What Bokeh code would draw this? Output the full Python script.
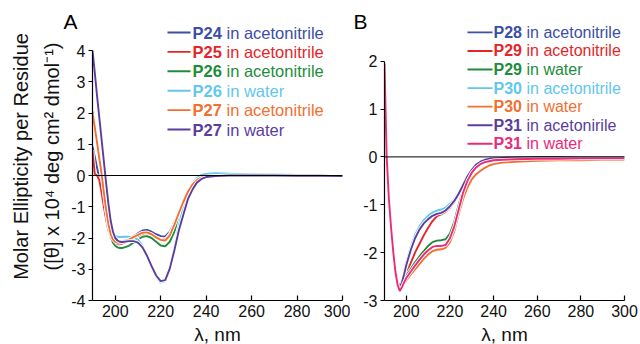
from bokeh.plotting import figure
from bokeh.models import Range1d, FixedTicker, Span, Label, Title
from bokeh.layouts import row
from bokeh.embed import file_html
from bokeh.resources import INLINE

FONT = "Liberation Sans"

# ---------------- data: panel A ----------------
wl_a = [190, 191, 192, 193, 194, 195, 196, 197, 198, 199, 200, 201, 202, 203, 204,
        206, 208, 210, 212, 214, 216, 218, 220, 222, 224, 226, 228, 230, 232, 234,
        236, 238, 240, 244, 250, 260, 270, 280, 290, 300]
p24_acn = [0.93, 0.6, 0.25, -0.1, -0.5, -0.95, -1.35, -1.7, -1.95, -2.05, -2.1, -2.12, -2.12, -2.1, -2.08,
           -2.03, -1.95, -1.85, -1.76, -1.74, -1.8, -1.88, -1.94, -1.95, -1.8, -1.5, -1.15, -0.8, -0.5, -0.28,
           -0.13, -0.06, -0.03, -0.01, 0.0, 0.0, 0.0, 0.0, -0.01, -0.02]
p25_acn = [0.8, 0.05, 0.0, -0.15, -0.55, -1.0, -1.4, -1.75, -2.0, -2.12, -2.18, -2.2, -2.2, -2.18, -2.15,
           -2.1, -2.03, -1.95, -1.87, -1.85, -1.9, -1.98, -2.04, -2.05, -1.88, -1.56, -1.2, -0.83, -0.52, -0.3,
           -0.15, -0.07, -0.03, -0.01, 0.0, 0.0, 0.0, -0.01, -0.01, -0.02]
p26_acn = [2.05, 1.6, 1.1, 0.6, 0.1, -0.5, -1.1, -1.6, -1.95, -2.15, -2.25, -2.3, -2.32, -2.32, -2.3,
           -2.25, -2.15, -2.05, -1.96, -1.94, -2.0, -2.12, -2.24, -2.27, -2.12, -1.8, -1.4, -0.98, -0.62, -0.36,
           -0.18, -0.08, -0.04, -0.01, 0.0, 0.0, 0.0, -0.01, -0.01, -0.02]
p26_water = [4.0, 3.3, 2.6, 1.9, 1.2, 0.5, -0.15, -0.95, -1.5, -1.8, -1.92, -1.96, -1.97, -1.97, -1.96,
             -1.96, -1.98, -2.05, -2.25, -2.55, -2.9, -3.25, -3.43, -3.38, -2.95, -2.3, -1.6, -1.0, -0.55, -0.25,
             -0.07, 0.02, 0.05, 0.07, 0.06, 0.04, 0.03, 0.02, 0.02, 0.01]
p27_acn = [2.0, 1.55, 1.05, 0.55, 0.05, -0.55, -1.1, -1.55, -1.88, -2.05, -2.12, -2.15, -2.15, -2.13, -2.1,
           -2.05, -1.97, -1.9, -1.83, -1.82, -1.88, -1.98, -2.06, -2.08, -1.92, -1.58, -1.2, -0.84, -0.52, -0.29,
           -0.14, -0.06, -0.03, -0.01, 0.0, 0.0, 0.0, -0.01, -0.01, -0.02]
p27_water = [4.0, 3.3, 2.55, 1.85, 1.15, 0.45, -0.25, -0.9, -1.45, -1.8, -2.0, -2.08, -2.12, -2.13, -2.12,
             -2.1, -2.1, -2.15, -2.3, -2.57, -2.9, -3.2, -3.38, -3.35, -2.98, -2.4, -1.75, -1.25, -0.75, -0.45,
             -0.22, -0.11, -0.05, -0.02, 0.0, 0.0, 0.0, -0.01, -0.01, -0.02]

# ---------------- data: panel B ----------------
wl_b = [190, 191, 192, 193, 194, 195, 196, 197, 198, 199, 200, 202, 204, 206, 208,
        210, 212, 214, 216, 218, 220, 222, 224, 226, 228, 230, 232, 234, 236, 238,
        240, 244, 250, 260, 270, 280, 290, 300]
p28_acn = [1.8, 0.0, -0.85, -1.45, -1.95, -2.35, -2.6, -2.7, -2.6, -2.43, -2.24, -1.93, -1.68, -1.5, -1.37,
           -1.28, -1.21, -1.17, -1.15, -1.1, -1.02, -0.91, -0.76, -0.58, -0.4, -0.26, -0.16, -0.1, -0.06, -0.04,
           -0.03, -0.02, -0.01, 0.0, 0.0, 0.0, 0.0, 0.0]
p29_acn = [1.85, 0.0, -0.85, -1.45, -1.97, -2.38, -2.65, -2.78, -2.7, -2.58, -2.45, -2.22, -2.0, -1.82, -1.64,
           -1.48, -1.34, -1.24, -1.2, -1.15, -1.06, -0.94, -0.78, -0.6, -0.43, -0.29, -0.19, -0.12, -0.08, -0.06,
           -0.05, -0.04, -0.03, -0.03, -0.02, -0.02, -0.02, -0.02]
p29_water = [1.75, 0.0, -0.85, -1.45, -1.95, -2.36, -2.63, -2.76, -2.7, -2.58, -2.48, -2.34, -2.2, -2.08, -1.97,
             -1.86, -1.78, -1.75, -1.74, -1.72, -1.6, -1.35, -1.0, -0.68, -0.45, -0.3, -0.2, -0.14, -0.1, -0.08,
             -0.06, -0.05, -0.04, -0.03, -0.03, -0.03, -0.03, -0.03]
p30_acn = [1.7, 0.0, -0.85, -1.45, -1.95, -2.33, -2.58, -2.68, -2.58, -2.4, -2.2, -1.88, -1.63, -1.45, -1.32,
           -1.23, -1.16, -1.12, -1.1, -1.06, -0.98, -0.88, -0.74, -0.56, -0.39, -0.25, -0.15, -0.09, -0.06, -0.04,
           -0.03, -0.02, -0.01, -0.01, -0.01, -0.01, -0.01, -0.01]
p30_water = [1.8, 0.0, -0.85, -1.45, -1.95, -2.36, -2.62, -2.75, -2.72, -2.65, -2.58, -2.46, -2.35, -2.24, -2.13,
             -2.04, -1.97, -1.94, -1.93, -1.9, -1.78, -1.55, -1.2, -0.88, -0.64, -0.47, -0.36, -0.29, -0.23, -0.18,
             -0.15, -0.12, -0.1, -0.08, -0.07, -0.07, -0.06, -0.06]
p31_acn = [1.8, 0.0, -0.85, -1.45, -1.95, -2.35, -2.6, -2.72, -2.62, -2.45, -2.26, -1.95, -1.7, -1.52, -1.39,
           -1.3, -1.23, -1.19, -1.17, -1.12, -1.03, -0.92, -0.77, -0.59, -0.41, -0.27, -0.16, -0.1, -0.06, -0.04,
           -0.03, -0.02, -0.01, 0.0, 0.0, 0.0, 0.0, 0.0]
p31_water = [1.95, 0.0, -0.87, -1.47, -1.98, -2.4, -2.67, -2.8, -2.72, -2.62, -2.53, -2.4, -2.27, -2.15, -2.04,
             -1.95, -1.88, -1.86, -1.86, -1.84, -1.7, -1.45, -1.1, -0.75, -0.5, -0.33, -0.22, -0.15, -0.11, -0.09,
             -0.07, -0.06, -0.05, -0.04, -0.04, -0.03, -0.03, -0.03]

# ---------------- series / legend text ----------------
BLUE, RED, GREEN, CYAN = "#3c4ea6", "#e52629", "#1e8c3c", "#62c7ec"
ORANGE, PURPLE, PINK = "#f26f30", "#5b3d9e", "#ec2a78"

series_a = [p24_acn, p25_acn, p26_acn, p26_water, p27_acn, p27_water]
ids_a = ["P24", "P25", "P26", "P26", "P27", "P27"]
media_a = ["in acetonitrile", "in acetonitrile", "in acetonitrile", "in water",
           "in acetonitrile", "in water"]
colors_a = [BLUE, RED, GREEN, CYAN, ORANGE, PURPLE]

series_b = [p28_acn, p29_acn, p29_water, p30_acn, p30_water, p31_acn, p31_water]
ids_b = ["P28", "P29", "P29", "P30", "P30", "P31", "P31"]
media_b = ["in acetonitrile", "in acetonitrile", "in water", "in acetonitrile",
           "in water", "in acetonirile", "in water"]
colors_b = [BLUE, RED, GREEN, CYAN, ORANGE, PURPLE, PINK]

x_ticks = [200, 220, 240, 260, 280, 300]
y_ticks_a = [-4, -3, -2, -1, 0, 1, 2, 3, 4]
y_ticks_b = [-3, -2, -1, 0, 1, 2]

Y_LABEL = "Molar Ellipticity per Residue\n([θ] x 10⁴ deg cm² dmol⁻¹)"
X_LABEL = "λ, nm"
XR = (190, 300)
H = 344

# canvas-pixel layout of the two frames (page has no offset)
A = dict(left=92, right=342, top=12, bottom=300, fig_x=0, width=350)
B = dict(left=384, right=624, top=12, bottom=302, fig_x=350, width=290)
A["yr"] = (-4, 4 + (50 - A["top"]) / 31.25)
B["yr"] = (-3, 2 + (61 - B["top"]) / 48.2)


def to_data(f, px, py):
    x = XR[0] + (px - f["left"]) / (f["right"] - f["left"]) * (XR[1] - XR[0])
    y = f["yr"][1] - (py - f["top"]) / (f["bottom"] - f["top"]) * (f["yr"][1] - f["yr"][0])
    return x, y


def make_panel(f, y_bounds, y_ticks, letter, letter_px, xlabel_standoff):
    p = figure(width=f["width"], height=H, output_backend="svg", toolbar_location=None,
               x_range=Range1d(*XR), y_range=Range1d(*f["yr"]),
               min_border_left=f["left"] - f["fig_x"],
               min_border_right=f["fig_x"] + f["width"] - f["right"],
               min_border_top=f["top"], min_border_bottom=H - f["bottom"])
    p.outline_line_color = None
    p.xgrid.visible = False
    p.ygrid.visible = False
    p.background_fill_color = "white"
    p.border_fill_color = "white"
    for ax in (p.xaxis[0], p.yaxis[0]):
        ax.axis_line_color = "black"
        ax.axis_line_width = 1.2
        ax.major_tick_line_color = "black"
        ax.major_tick_line_width = 1.2
        ax.minor_tick_line_color = None
        ax.major_label_text_font = FONT
        ax.major_label_text_font_size = "16px"
        ax.major_label_text_color = "#111111"
        ax.axis_label_text_font = FONT
        ax.axis_label_text_font_size = "19px"
        ax.axis_label_text_font_style = "normal"
        ax.axis_label_text_color = "#111111"
    xa = p.xaxis[0]
    xa.ticker = FixedTicker(ticks=x_ticks)
    xa.major_tick_in = 5
    xa.major_tick_out = 0
    xa.major_label_standoff = 4
    xa.bounds = XR
    ya = p.yaxis[0]
    ya.ticker = FixedTicker(ticks=y_ticks)
    ya.major_tick_in = 0
    ya.major_tick_out = 4
    ya.major_label_standoff = 3
    ya.bounds = y_bounds
    ya.major_label_overrides = {t: str(t) for t in y_ticks}
    p.add_layout(Span(location=0, dimension="width", line_color="black", line_width=1))
    # panel letter as the figure title
    p.title.text = letter
    p.title.text_font = FONT
    p.title.text_font_size = "21px"
    p.title.text_font_style = "normal"
    p.title.text_color = "black"
    p.title.align = "left"
    p.title.vertical_align = "bottom"
    p.title.offset = letter_px - f["left"]
    p.title.standoff = -40
    # x-axis title under the tick labels
    p.add_layout(Title(text=X_LABEL, align="center", vertical_align="bottom",
                       standoff=xlabel_standoff, text_font=FONT, text_font_size="19px",
                       text_font_style="normal", text_color="#111111"), "below")
    return p


pa = make_panel(A, (-4, 4), y_ticks_a, "A", 63, -50)
pb = make_panel(B, (-3, 2), y_ticks_b, "B", 353, -50)

ya = pa.yaxis[0]
ya.axis_label = Y_LABEL
ya.axis_label_text_font_size = "20px"
ya.axis_label_standoff = 5
ya.axis_label_text_line_height = 1.4


def draw(p, f, wl, series, ids, media, colors, leg_top, leg_step, line_x0, line_x1,
         text_x, font_px, bold_w):
    for ys, c in zip(series, colors):
        p.line(wl, ys, line_color="white", line_width=3.6)
        p.line(wl, ys, line_color=c, line_width=1.9)
    for i, (pid, med, c) in enumerate(zip(ids, media, colors)):
        py = leg_top + i * leg_step
        x0, y = to_data(f, line_x0, py)
        x1, _ = to_data(f, line_x1, py)
        p.segment(x0=[x0], y0=[y], x1=[x1], y1=[y], line_color=c, line_width=1.9)
        tx, _ = to_data(f, text_x, py)
        p.add_layout(Label(x=tx, y=y, text=pid, text_font=FONT, text_font_style="bold",
                           text_font_size=f"{font_px}px", text_color=c,
                           text_baseline="middle", text_align="left"))
        p.add_layout(Label(x=tx, y=y, x_offset=bold_w, text=med, text_font=FONT,
                           text_font_size=f"{font_px}px", text_color=c,
                           text_baseline="middle", text_align="left"))


draw(pa, A, wl_a, series_a, ids_a, media_a, colors_a, 32, 19.4, 167, 190, 192, 16.5, 34)
draw(pb, B, wl_b, series_b, ids_b, media_b, colors_b, 32, 18.7, 467, 492, 493, 16, 33)

layout = row(pa, pb)
open("out.html", "w").write(file_html(layout, INLINE))
